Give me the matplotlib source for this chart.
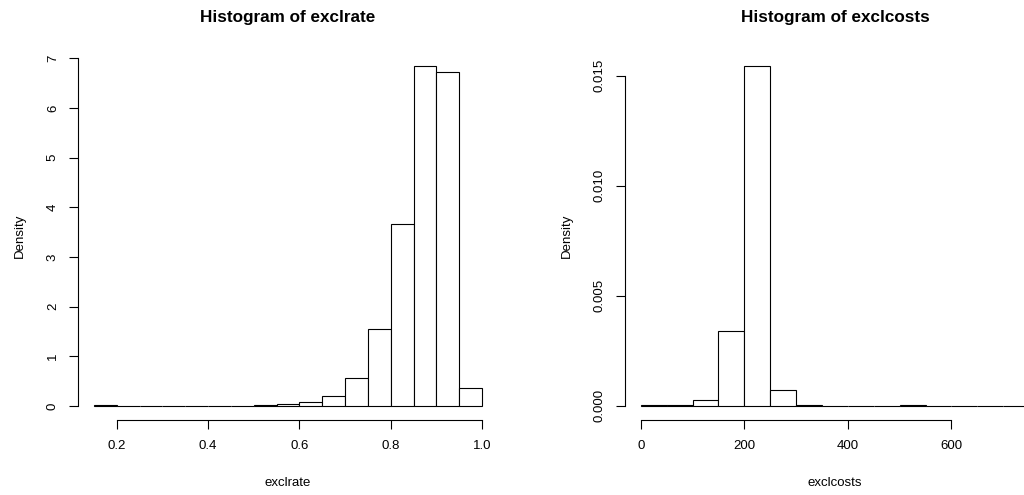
import numpy as np
import matplotlib
matplotlib.use('Agg')
import matplotlib.pyplot as plt

plt.rcParams['font.family'] = ['Liberation Sans', 'DejaVu Sans']

# exclrate histogram (density), breaks every 0.05
rate_breaks = np.arange(0.15, 1.0001, 0.05)
rate_density = [0.01, 0, 0, 0, 0, 0, 0.005, 0.02, 0.044, 0.078, 0.205,
                0.56, 1.55, 3.67, 6.845, 6.73, 0.36]
rate_ticks = [0.2, 0.4, 0.6, 0.8, 1.0]
rate_yticks = [0, 1, 2, 3, 4, 5, 6, 7]

# exclcosts histogram (density), breaks every 50
cost_breaks = np.arange(0, 751, 50)
cost_density = [0.00002, 0.00006, 0.00028, 0.0034, 0.01544, 0.00073,
                0.00002, 0.00001, 0.00001, 0, 0.00002, 0, 0, 0.00001, 0.00001]
cost_ticks = [0, 200, 400, 600]
cost_yticks = [0.000, 0.005, 0.010, 0.015]

fig = plt.figure(figsize=(10.24, 4.95), dpi=100)
ax1 = fig.add_axes([0.0765, 0.1525, 0.4094, 0.7414])
ax2 = fig.add_axes([0.6106, 0.1525, 0.4096, 0.7414])


def rhist(ax, breaks, dens, xticks, yticks, yfmt, title, xlab):
    breaks = np.asarray(breaks)
    ax.bar(breaks[:-1], dens, width=np.diff(breaks), align='edge',
           color='white', edgecolor='black', linewidth=0.8)
    # R style 4% padding around the data range
    x0, x1 = breaks[0], breaks[-1]
    dx = (x1 - x0) * 0.04
    ax.set_xlim(x0 - dx, x1 + dx)
    ymax = max(dens)
    ax.set_ylim(-ymax * 0.04, ymax * 1.04)
    for s in ['top', 'right']:
        ax.spines[s].set_visible(False)
    ax.spines['left'].set_bounds(yticks[0], yticks[-1])
    ax.spines['bottom'].set_bounds(xticks[0], xticks[-1])
    for s in ['left', 'bottom']:
        ax.spines[s].set_linewidth(0.8)
    ax.set_xticks(xticks)
    ax.set_yticks(yticks)
    ax.set_yticklabels([yfmt.format(v) for v in yticks], rotation=90, va='center')
    ax.tick_params(axis='both', direction='out', length=6.5, width=0.8,
                   labelsize=9.5, pad=7.5)
    ax.tick_params(axis='x', pad=8.5)
    ax.set_title(title, fontsize=12.3, fontweight='bold', pad=22)
    ax.set_xlabel(xlab, fontsize=9.5)
    ax.set_ylabel('Density', fontsize=9.5)
    ax.xaxis.set_label_coords(0.5, -0.157)
    ax.yaxis.set_label_coords(-0.124, 0.5)


rhist(ax1, rate_breaks, rate_density, rate_ticks, rate_yticks, '{:g}',
      'Histogram of exclrate', 'exclrate')
ax1.set_xticklabels(['0.2', '0.4', '0.6', '0.8', '1.0'])
rhist(ax2, cost_breaks, cost_density, cost_ticks, cost_yticks, '{:.3f}',
      'Histogram of exclcosts', 'exclcosts')

fig.savefig('out.png', dpi=100)
